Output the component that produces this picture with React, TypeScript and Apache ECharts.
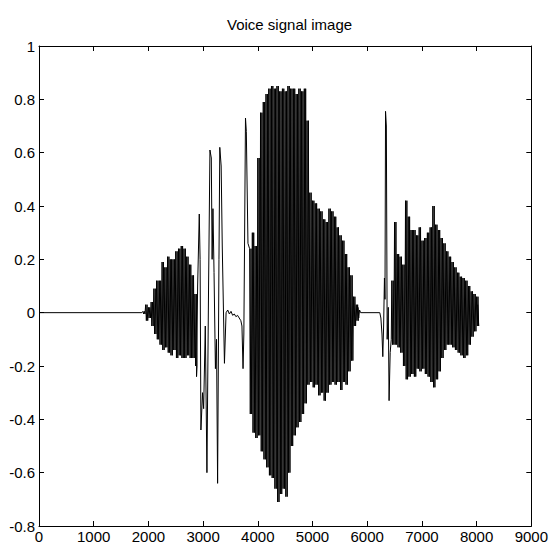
import React, { useEffect, useRef } from "react";
import * as echarts from "echarts";

const TITLE = "Voice signal image";

// axis ranges / ticks
const X_MIN = 0;
const X_MAX = 9000;
const X_STEP = 1000;
const Y_MIN = -0.8;
const Y_MAX = 1;
const Y_STEP = 0.2;

// silence at the start (sample index, amplitude)
const leadS = [0, 1880];
const leadV = [0, 0];

// first voiced burst: envelope every 50 samples from 1900
const burstAStart = 1900;
const burstAUpper = [0.005, 0.03, 0.02, 0.04, 0.09, 0.12, 0.12, 0.19, 0.17, 0.21, 0.2, 0.2, 0.23, 0.24, 0.25, 0.24, 0.21, 0.18, 0.14, 0.07];
const burstALower = [-0.005, -0.03, -0.02, -0.05, -0.08, -0.1, -0.12, -0.14, -0.13, -0.15, -0.16, -0.14, -0.17, -0.16, -0.17, -0.17, -0.16, -0.17, -0.17, -0.2];

// transient section between bursts
const transient1S = [2880, 2900, 2930, 2945, 2960, 2990, 3010, 3040, 3070, 3100, 3125, 3150, 3165, 3180, 3200, 3225, 3245, 3265, 3290, 3305, 3330, 3350, 3390, 3420, 3450, 3480, 3510, 3540, 3570, 3600, 3630, 3660, 3690, 3710, 3730, 3745, 3775, 3790, 3820];
const transient1V = [-0.24, 0.1, 0.37, 0.2, -0.44, -0.3, -0.36, -0.05, -0.6, 0.1, 0.61, 0.58, 0.2, 0.39, 0.15, -0.21, -0.1, -0.64, 0.2, 0.62, 0.55, 0.25, -0.19, 0.0, 0.01, -0.005, 0.005, -0.01, -0.005, -0.015, -0.01, -0.02, -0.03, -0.05, -0.21, -0.08, 0.73, 0.68, 0.26];

// main voiced burst: envelope every 50 samples from 3850
const burstCStart = 3850;
const burstCUpper = [0.24, 0.3, 0.25, 0.58, 0.75, 0.79, 0.82, 0.84, 0.85, 0.84, 0.85, 0.83, 0.84, 0.83, 0.85, 0.84, 0.84, 0.82, 0.84, 0.83, 0.84, 0.72, 0.45, 0.42, 0.41, 0.39, 0.38, 0.35, 0.34, 0.39, 0.38, 0.36, 0.32, 0.29, 0.27, 0.22, 0.17, 0.14, 0.06, 0.03];
const burstCLower = [-0.38, -0.45, -0.47, -0.46, -0.52, -0.55, -0.58, -0.61, -0.62, -0.66, -0.71, -0.68, -0.66, -0.69, -0.6, -0.5, -0.46, -0.43, -0.41, -0.38, -0.34, -0.27, -0.26, -0.28, -0.27, -0.31, -0.3, -0.33, -0.3, -0.27, -0.26, -0.27, -0.26, -0.29, -0.26, -0.27, -0.22, -0.18, -0.05, -0.03];

// pause and onset of the last burst
const transient2S = [5830, 5845, 5860, 5880, 6230, 6250, 6270, 6285, 6300, 6315, 6325, 6335, 6350, 6365, 6385, 6400, 6420, 6440];
const transient2V = [0.02, -0.02, 0.01, 0, 0, -0.02, -0.08, -0.165, -0.05, 0.13, 0.05, 0.755, 0.7, -0.1, 0.02, -0.33, -0.15, -0.1];

// last voiced burst: envelope every 50 samples from 6450
const burstEStart = 6450;
const burstEUpper = [0.12, 0.34, 0.22, 0.21, 0.18, 0.42, 0.36, 0.31, 0.31, 0.29, 0.32, 0.27, 0.28, 0.3, 0.32, 0.4, 0.33, 0.31, 0.28, 0.26, 0.23, 0.21, 0.19, 0.17, 0.15, 0.135, 0.13, 0.12, 0.1, 0.08, 0.07, 0.06];
const burstELower = [-0.12, -0.12, -0.13, -0.15, -0.2, -0.25, -0.24, -0.23, -0.24, -0.21, -0.22, -0.21, -0.23, -0.24, -0.26, -0.28, -0.25, -0.22, -0.17, -0.14, -0.12, -0.12, -0.13, -0.14, -0.15, -0.16, -0.17, -0.16, -0.12, -0.09, -0.07, -0.05];
const tailS = [8020];
const tailV = [0.03];

const ENV_STEP = 50;
const CYCLES_PER_STEP = 2;

function pairs(s: number[], v: number[]): number[][] {
  return s.map((x, i) => [x, v[i]]);
}

// each envelope bin is drawn as a few up/down strokes between its read peak values
function burst(start: number, up: number[], lo: number[]): number[][] {
  const out: number[][] = [];
  const half = ENV_STEP / (2 * CYCLES_PER_STEP);
  for (let i = 0; i < up.length; i++) {
    for (let c = 0; c < CYCLES_PER_STEP; c++) {
      const s0 = start + i * ENV_STEP + c * 2 * half;
      out.push([s0, up[i]]);
      out.push([s0 + half, lo[i]]);
    }
  }
  return out;
}

const FONT = "'Liberation Sans', Arial, sans-serif";

export default function App() {
  const ref = useRef<HTMLDivElement>(null);
  useEffect(() => {
    if (!ref.current) return;
    const chart = echarts.init(ref.current, null, { renderer: "svg" });
    const data = [
      ...pairs(leadS, leadV),
      ...burst(burstAStart, burstAUpper, burstALower),
      ...pairs(transient1S, transient1V),
      ...burst(burstCStart, burstCUpper, burstCLower),
      ...pairs(transient2S, transient2V),
      ...burst(burstEStart, burstEUpper, burstELower),
      ...pairs(tailS, tailV),
    ];
    const axisLine = { show: true, onZero: false, lineStyle: { color: "#000", width: 1 } };
    const tick = { show: true, inside: true, length: 5, lineStyle: { color: "#000", width: 1 } };
    const yFmt = (v: number) => String(Math.round(v * 10) / 10);
    const xFmt = (v: number) => String(Math.round(v));
    chart.setOption({
      animation: false,
      backgroundColor: "#fff",
      title: {
        text: TITLE,
        left: 222,
        top: 12,
        textStyle: { fontFamily: FONT, fontSize: 15, fontWeight: "normal", color: "#000" },
      },
      grid: { left: 39, top: 46, right: 19, bottom: 25, containLabel: false },
      xAxis: [
        {
          type: "value", position: "bottom", min: X_MIN, max: X_MAX, interval: X_STEP,
          axisLine, axisTick: tick, splitLine: { show: false },
          axisLabel: { color: "#000", fontFamily: FONT, fontSize: 15, margin: 3, formatter: xFmt },
        },
        {
          type: "value", position: "top", min: X_MIN, max: X_MAX, interval: X_STEP,
          axisLine, axisTick: tick, splitLine: { show: false }, axisLabel: { show: false },
        },
      ],
      yAxis: [
        {
          type: "value", position: "left", min: Y_MIN, max: Y_MAX, interval: Y_STEP,
          axisLine, axisTick: tick, splitLine: { show: false },
          axisLabel: { color: "#000", fontFamily: FONT, fontSize: 15, margin: 4, formatter: yFmt },
        },
        {
          type: "value", position: "right", min: Y_MIN, max: Y_MAX, interval: Y_STEP,
          axisLine, axisTick: tick, splitLine: { show: false }, axisLabel: { show: false },
        },
      ],
      series: [
        {
          type: "line",
          data,
          xAxisIndex: 0,
          yAxisIndex: 0,
          showSymbol: false,
          symbol: "none",
          lineStyle: { color: "#000", width: 1 },
        },
      ],
    });
    return () => chart.dispose();
  }, []);
  return (
    <div
      ref={ref}
      style={{ position: "fixed", left: 0, top: 0, width: 551, height: 551, background: "#fff" }}
    />
  );
}
